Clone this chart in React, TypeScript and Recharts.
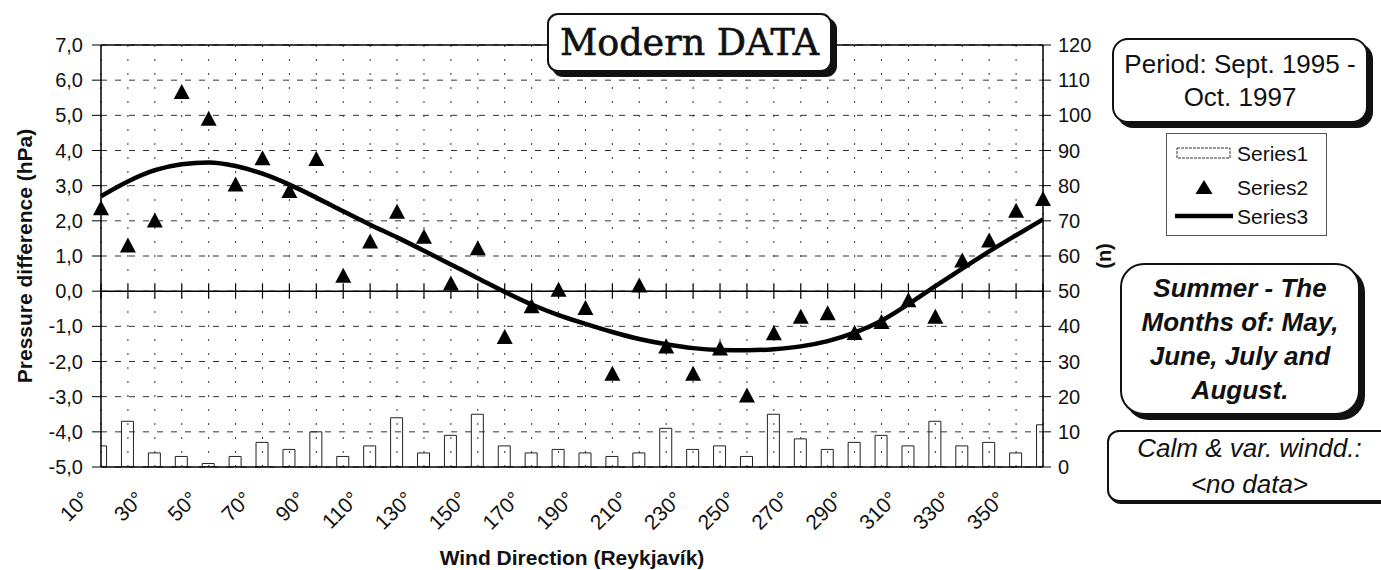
import React from 'react';
import { ComposedChart, Bar, Line, Scatter, XAxis, YAxis, CartesianGrid, ReferenceLine } from 'recharts';

// ---------- data ----------
const directions = [10, 20, 30, 40, 50, 60, 70, 80, 90, 100, 110, 120, 130, 140, 150, 160, 170, 180, 190, 200, 210, 220, 230, 240, 250, 260, 270, 280, 290, 300, 310, 320, 330, 340, 350, 360];
const xTickLabels = ['10°', '30°', '50°', '70°', '90°', '110°', '130°', '150°', '170°', '190°', '210°', '230°', '250°', '270°', '290°', '310°', '330°', '350°'];
const leftTicks = [-5, -4, -3, -2, -1, 0, 1, 2, 3, 4, 5, 6, 7];
const rightTicks = [0, 10, 20, 30, 40, 50, 60, 70, 80, 90, 100, 110, 120];

// Series1: number of cases (n), right axis
const series1Counts = [6, 13, 4, 3, 1, 3, 7, 5, 10, 3, 6, 14, 4, 9, 15, 6, 4, 5, 4, 3, 4, 11, 5, 6, 3, 15, 8, 5, 7, 9, 6, 13, 6, 7, 4, 12];
// Series2: pressure difference (hPa), left axis
const series2Pressure = [2.36, 1.30, 2.01, 5.66, 4.90, 3.03, 3.78, 2.85, 3.76, 0.44, 1.41, 2.26, 1.55, 0.22, 1.22, -1.30, -0.43, 0.04, -0.48, -2.35, 0.16, -1.57, -2.35, -1.63, -2.97, -1.20, -0.73, -0.63, -1.19, -0.88, -0.26, -0.73, 0.87, 1.44, 2.29, 2.62];
// Series3: fitted curve (hPa), left axis
const series3Fit = [2.70, 3.12, 3.44, 3.61, 3.66, 3.56, 3.34, 3.03, 2.66, 2.27, 1.89, 1.53, 1.15, 0.76, 0.37, -0.02, -0.38, -0.68, -0.93, -1.16, -1.36, -1.51, -1.62, -1.67, -1.68, -1.65, -1.57, -1.42, -1.18, -0.84, -0.37, 0.14, 0.64, 1.13, 1.59, 2.04];

const data = directions.map((dir, i) => ({
  dir,
  s1: series1Counts[i],
  s2: series2Pressure[i],
  s3: series3Fit[i],
}));

const SANS = '"Liberation Sans", Arial, Helvetica, sans-serif';

const XTick = (props: any) => {
  const { x, y, payload } = props;
  const label = `${payload.value}°`;
  if (!xTickLabels.includes(label)) return <g />;
  const ax = x - 15;
  const ay = y + 28;
  return (
    <text
      x={ax}
      y={ay}
      transform={`rotate(-45 ${ax} ${ay})`}
      textAnchor="end"
      dominantBaseline="central"
      fontSize={21}
      fontFamily={SANS}
      fill="#111"
    >
      {label}
    </text>
  );
};

const Triangle = (props: any) => {
  const { cx, cy } = props;
  if (cx == null || cy == null) return <g />;
  return <path d={`M${cx},${cy - 8} L${cx + 8},${cy + 7} L${cx - 8},${cy + 7} Z`} fill="#000" />;
};

const fmtLeft = (v: number) => v.toFixed(1).replace('.', ',');

const boxBase: React.CSSProperties = {
  position: 'absolute',
  boxSizing: 'border-box',
  border: '2px solid #111',
  background: '#fff',
  display: 'flex',
  alignItems: 'center',
  justifyContent: 'center',
  textAlign: 'center',
  color: '#111',
  zIndex: 5,
};

export default function App() {
  return (
    <div style={{ position: 'absolute', left: 0, top: 0, width: 1381, height: 570, overflow: 'hidden', background: '#fff' }}>
      <ComposedChart width={1381} height={570} data={data} margin={{ top: 45, right: 216, bottom: 3, left: 5 }}>
        <CartesianGrid yAxisId="left" horizontal={true} vertical={false} stroke="#333" strokeDasharray="6 8" />
        <CartesianGrid yAxisId="left" horizontal={false} vertical={true} stroke="#333" strokeDasharray="2 12" />
        <XAxis
          dataKey="dir"
          type="number"
          domain={[10, 360]}
          ticks={directions}
          interval={0}
          tickSize={0}
          tickMargin={0}
          tick={<XTick />}
          axisLine={{ stroke: '#000', strokeWidth: 1.5 }}
          height={100}
          label={{ value: 'Wind Direction (Reykjavík)', position: 'insideBottom', offset: 2, style: { fontWeight: 'bold', fontSize: 21, fontFamily: SANS, fill: '#111' } }}
        />
        <XAxis
          xAxisId="bars"
          dataKey="dir"
          type="number"
          domain={[10, 360]}
          ticks={directions}
          allowDataOverflow={true}
          hide={true}
        />
        <YAxis
          yAxisId="left"
          domain={[-5, 7]}
          ticks={leftTicks}
          interval={0}
          tickFormatter={fmtLeft}
          width={96}
          tickSize={9}
          tickMargin={9}
          axisLine={{ stroke: '#000', strokeWidth: 1.5 }}
          tickLine={{ stroke: '#000' }}
          tick={{ fontSize: 20, fontFamily: SANS, fill: '#111' }}
          label={{ value: 'Pressure difference (hPa)', angle: -90, position: 'insideLeft', offset: 20, style: { textAnchor: 'middle', fontWeight: 'bold', fontSize: 21, fontFamily: SANS, fill: '#111' } }}
        />
        <YAxis
          yAxisId="right"
          orientation="right"
          domain={[0, 120]}
          ticks={rightTicks}
          interval={0}
          allowDataOverflow={true}
          width={122}
          tickSize={8}
          tickMargin={7}
          axisLine={{ stroke: '#000', strokeWidth: 1.5 }}
          tickLine={{ stroke: '#000' }}
          tick={{ fontSize: 20, fontFamily: SANS, fill: '#111' }}
          label={{ value: '(n)', angle: -90, position: 'center', style: { textAnchor: 'middle', fontWeight: 'bold', fontSize: 20, fontFamily: SANS, fill: '#111' } }}
        />
        <ReferenceLine yAxisId="left" y={7} stroke="#000" strokeWidth={1.5} />
        <ReferenceLine yAxisId="left" y={0} stroke="#000" strokeWidth={1.5} />
        {directions.map((d) => (
          <ReferenceLine
            key={`xt-${d}`}
            yAxisId="left"
            segment={[{ x: d, y: -0.2 }, { x: d, y: 0.2 }]}
            stroke="#000"
            strokeWidth={1.2}
          />
        ))}
        <Bar xAxisId="bars" yAxisId="right" dataKey="s1" name="Series1" barSize={12} fill="none" stroke="#222" strokeWidth={1} isAnimationActive={false} />
        <Line yAxisId="left" dataKey="s3" name="Series3" type="monotone" stroke="#000" strokeWidth={4.5} dot={false} activeDot={false} isAnimationActive={false} />
        <Scatter yAxisId="left" dataKey="s2" name="Series2" shape={<Triangle />} fill="#000" isAnimationActive={false} />
      </ComposedChart>

      {/* Title */}
      <div style={{ ...boxBase, left: 547, top: 13, width: 285, height: 59, borderRadius: 11, boxShadow: '5px 5px 0 #111', fontFamily: '"DejaVu Serif", serif', fontSize: 36.5, WebkitTextStroke: '0.6px #111' }}>
        Modern DATA
      </div>

      {/* Period */}
      <div style={{ ...boxBase, left: 1112, top: 38, width: 256, height: 85, borderRadius: 16, boxShadow: '5px 5px 0 #111', fontFamily: SANS, fontSize: 26, lineHeight: '33px' }}>
        <div>Period: Sept. 1995 -<br />Oct. 1997</div>
      </div>

      {/* Legend */}
      <div style={{ position: 'absolute', left: 1166, top: 133, width: 161, height: 103, boxSizing: 'border-box', border: '1px solid #555', background: '#fff', zIndex: 5 }}>
        <svg width={159} height={101} style={{ display: 'block' }}>
          <rect x={10} y={14} width={53} height={10} fill="#fff" stroke="#333" strokeWidth={1} strokeDasharray="3 1" />
          <text x={70} y={19} dominantBaseline="central" fontSize={21} fontFamily={SANS} fill="#111">Series1</text>
          <path d="M37,46 L45.5,60 L28.5,60 Z" fill="#000" />
          <text x={70} y={53} dominantBaseline="central" fontSize={21} fontFamily={SANS} fill="#111">Series2</text>
          <line x1={8} y1={82} x2={66} y2={82} stroke="#000" strokeWidth={4.5} />
          <text x={70} y={82} dominantBaseline="central" fontSize={21} fontFamily={SANS} fill="#111">Series3</text>
        </svg>
      </div>

      {/* Summer */}
      <div style={{ ...boxBase, left: 1120, top: 263, width: 240, height: 152, borderRadius: 24, boxShadow: '5px 5px 0 #111', fontFamily: SANS, fontSize: 26, fontWeight: 'bold', fontStyle: 'italic', lineHeight: '34px' }}>
        <div>Summer - The<br />Months of: May,<br />June, July and<br />August.</div>
      </div>

      {/* Calm */}
      <div style={{ ...boxBase, left: 1107, top: 430, width: 285, height: 72, borderRadius: 12, boxShadow: '2px 2px 0 #111', fontFamily: SANS, fontSize: 26, fontStyle: 'italic', lineHeight: '36px' }}>
        <div>Calm &amp; var. windd.:<br />&lt;no data&gt;</div>
      </div>
    </div>
  );
}
